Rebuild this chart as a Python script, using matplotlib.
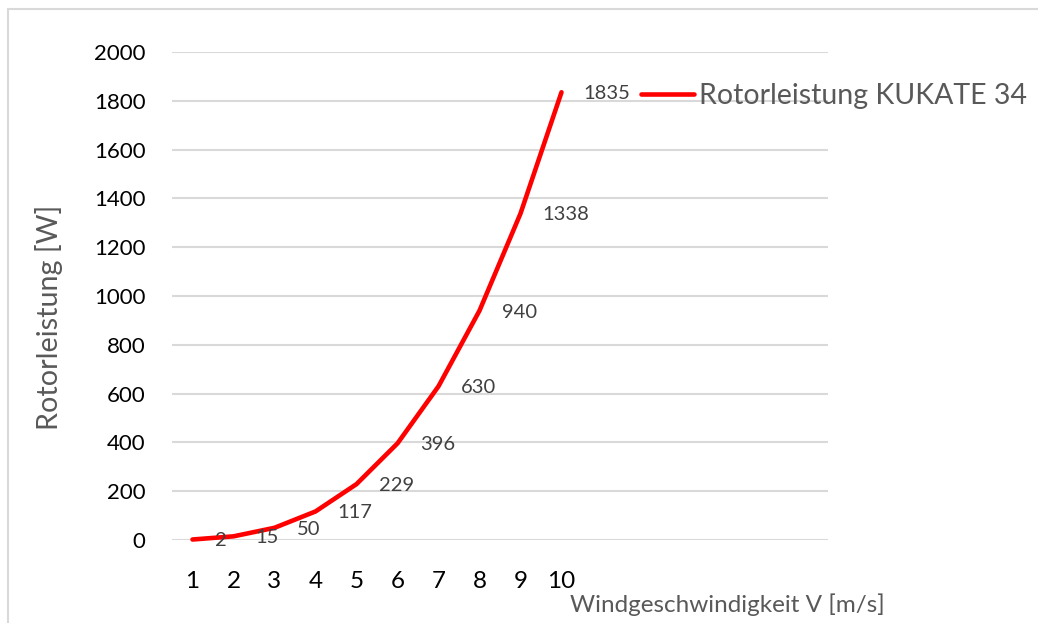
import numpy as np
import matplotlib
matplotlib.use('Agg')
from matplotlib import pyplot as plt
from matplotlib.patches import Rectangle

plt.rcParams['font.family'] = ['Lato', 'DejaVu Sans']

# data
speed = [1, 2, 3, 4, 5, 6, 7, 8, 9, 10]      # wind speed categories [m/s]
power = [2, 15, 50, 117, 229, 396, 630, 940, 1338, 1835]   # rotor power [W]
n_cats = 16      # excel axis has empty categories after 10
y_ticks = [0, 200, 400, 600, 800, 1000, 1200, 1400, 1600, 1800, 2000]

W, H = 1038, 623
fig = plt.figure(figsize=(W/100, H/100), dpi=100)
fig.patch.set_facecolor('white')

# outer chart border
fig.patches.append(Rectangle((8/W, -0.1), 1.2, 1 - 9/H + 0.1, transform=fig.transFigure,
                             fill=False, edgecolor='#d9d9d9', lw=1.5))

ax = fig.add_axes([172/W, 1 - 540/H, (828-172)/W, 488/H])
ax.set_xlim(0.5, n_cats + 0.5)
ax.set_ylim(0, 2000)
for s in ax.spines.values():
    s.set_visible(False)
ax.set_yticks(y_ticks)
ax.grid(axis='y', color='#d9d9d9', lw=1.5)
ax.set_axisbelow(True)
ax.set_xticks(speed)
ax.set_xticklabels([str(v) for v in speed])
ax.tick_params(axis='y', length=0, pad=19, labelsize=16, labelcolor='black')
ax.tick_params(axis='x', length=0, pad=22, labelsize=17.5, labelcolor='black')

ax.plot(speed, power, color='#ff0000', lw=3.3, solid_capstyle='round',
        clip_on=False, label='Rotorleistung KUKATE 34')

for x, y in zip(speed, power):
    ax.annotate(str(y), (x, y), xytext=(16, -1), textcoords='offset points',
                ha='left', va='center', fontsize=14.5, color='#404040')

ax.set_ylabel('Rotorleistung [W]', fontsize=20.7, color='#595959')
ax.yaxis.set_label_coords(-109/656, 0.457)
fig.text(570/W, 1 - 605/H, 'Windgeschwindigkeit V [m/s]', fontsize=17.5,
         color='#595959', ha='left', va='center')

leg = fig.legend(loc='center left', bbox_to_anchor=(641/W, 1 - 96/H), frameon=False,
                 fontsize=20.5, handlelength=1.85, handletextpad=0.2, borderpad=0,
                 borderaxespad=0)
for t in leg.get_texts():
    t.set_color('#595959')

fig.savefig('out.png', dpi=100)
